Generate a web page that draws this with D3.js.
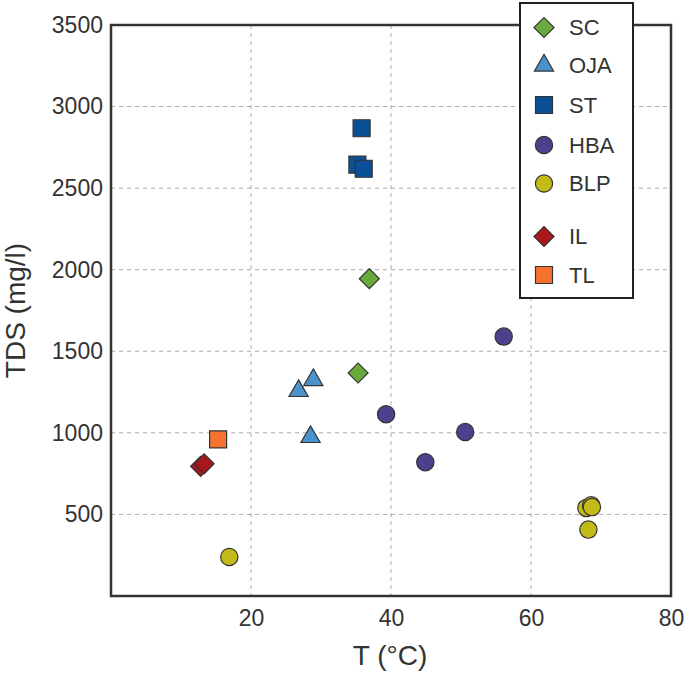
<!DOCTYPE html>
<html><head><meta charset="utf-8">
<script src="https://cdn.jsdelivr.net/npm/d3@7"></script>
<style>body{margin:0;background:#fff}svg{display:block}text{font-family:"Liberation Sans",Arial,sans-serif;fill:#333}</style>
</head><body>
<svg id="c" width="685" height="675"></svg>
<script>
const groups = ["SC","OJA","ST","HBA","BLP","IL","TL"];
const colors = ["#6aaa3c","#4a92cc","#0b4f96","#4d418e","#c2ba16","#a8171b","#f6722e"];
const shapes = ["diamond","triangle","square","circle","circle","diamond","square"];
const SC  = [[36.9,1945],[35.3,1367]];
const OJA = [[26.8,1257],[28.9,1324],[28.5,975]];
const ST  = [[35.8,2867],[35.2,2644],[36.1,2619]];
const HBA = [[56.1,1590],[39.3,1114],[50.6,1005],[44.9,820]];
const BLP = [[16.9,239],[67.9,540],[68.6,556],[68.7,545],[68.2,407]];
const IL  = [[12.8,795],[13.3,810]];
const TL  = [[15.3,960]];
const seriesData = [SC,OJA,ST,HBA,BLP,IL,TL];
const xTicks = [20,40,60,80];
const yTicks = [500,1000,1500,2000,2500,3000,3500];

const svg = d3.select("#c");
const L=111, R=671, T=25, B=596;
const x = d3.scaleLinear().domain([0,80]).range([L,R]);
const y = d3.scaleLinear().domain([0,3500]).range([B,T]);

const g = svg.append("g");
// grid
g.selectAll(".vg").data(xTicks.filter(d=>d<80)).enter().append("line")
 .attr("x1",d=>x(d)).attr("x2",d=>x(d)).attr("y1",T).attr("y2",B)
 .attr("stroke","#aaa").attr("stroke-width",1).attr("stroke-dasharray","4,4");
g.selectAll(".hg").data(yTicks.filter(d=>d<3500)).enter().append("line")
 .attr("y1",d=>y(d)).attr("y2",d=>y(d)).attr("x1",L).attr("x2",R)
 .attr("stroke","#aaa").attr("stroke-width",1).attr("stroke-dasharray","4,4");

// axes
const xa = svg.append("g").attr("transform",`translate(0,${B})`)
 .call(d3.axisBottom(x).tickValues(xTicks).tickFormat(d3.format("d")).tickSize(0).tickPadding(14));
xa.select(".domain").remove();
xa.selectAll("text").attr("font-size",23).attr("fill","#333").attr("font-family",'"Liberation Sans",Arial,sans-serif');
const ya = svg.append("g").attr("transform",`translate(${L},0)`)
 .call(d3.axisLeft(y).tickValues(yTicks).tickFormat(d3.format("d")).tickSize(0).tickPadding(8));
ya.select(".domain").remove();
ya.selectAll("text").attr("font-size",23).attr("fill","#333").attr("font-family",'"Liberation Sans",Arial,sans-serif');

// frame
svg.append("rect").attr("x",L).attr("y",T).attr("width",R-L).attr("height",B-T)
 .attr("fill","none").attr("stroke","#333").attr("stroke-width",2.5);

function sym(shape){
  if(shape==="diamond") return {p:d3.symbol().type(d3.symbolSquare).size(200)(), rot:45};
  if(shape==="triangle") return {p:d3.symbol().type(d3.symbolTriangle).size(160)(), rot:0};
  if(shape==="square") return {p:d3.symbol().type(d3.symbolSquare).size(289)(), rot:0};
  return {p:d3.symbol().type(d3.symbolCircle).size(235)(), rot:0};
}

// points
seriesData.forEach((data,i)=>{
  const s = sym(shapes[i]);
  svg.append("g").selectAll("path").data(data).enter().append("path")
   .attr("d",s.p)
   .attr("transform",d=>`translate(${x(d[0])},${y(d[1])}) rotate(${s.rot})`)
   .attr("fill",colors[i]).attr("stroke","#333").attr("stroke-width",1.2);
});

// legend
const lg = svg.append("g");
lg.append("rect").attr("x",520).attr("y",3).attr("width",113).attr("height",295)
 .attr("fill","#fff").attr("stroke","#222").attr("stroke-width",2);
const ly = [27.5,65.5,105,145,183.5,236.5,275];
groups.forEach((name,i)=>{
  const s = sym(shapes[i]);
  lg.append("path").attr("d",s.p)
   .attr("transform",`translate(544,${ly[i]}) rotate(${s.rot})`)
   .attr("fill",colors[i]).attr("stroke","#333").attr("stroke-width",1.2);
  lg.append("text").attr("x",569).attr("y",ly[i]).attr("dy","0.36em")
   .attr("font-size",22).text(name);
});

// titles
svg.append("text").attr("x",(L+R)/2 - 1).attr("y",665).attr("text-anchor","middle")
 .attr("font-size",28).text("T (°C)");
svg.append("text").attr("transform",`translate(25,${(T+B)/2}) rotate(-90)`)
 .attr("text-anchor","middle").attr("font-size",28).text("TDS (mg/l)");
</script>
</body></html>
